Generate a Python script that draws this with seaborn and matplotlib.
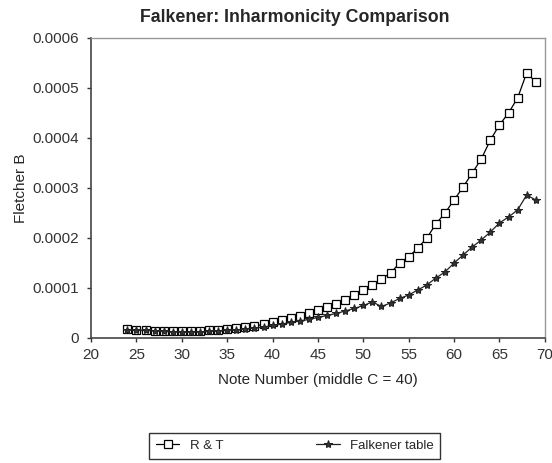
import numpy as np
import pandas as pd
import matplotlib.pyplot as plt
import seaborn as sns

notes = list(range(24, 70))

rt_b = [1.7e-5, 1.6e-5, 1.5e-5, 1.4e-5, 1.4e-5, 1.3e-5, 1.3e-5, 1.3e-5, 1.4e-5, 1.5e-5,
        1.6e-5, 1.7e-5, 1.9e-5, 2.1e-5, 2.4e-5, 2.7e-5, 3.1e-5, 3.5e-5, 3.9e-5, 4.4e-5,
        4.9e-5, 5.5e-5, 6.1e-5, 6.8e-5, 7.6e-5, 8.6e-5, 9.6e-5, 1.06e-4, 1.18e-4, 1.3e-4,
        1.5e-4, 1.62e-4, 1.8e-4, 2.0e-4, 2.28e-4, 2.5e-4, 2.76e-4, 3.02e-4, 3.3e-4, 3.58e-4,
        3.96e-4, 4.26e-4, 4.5e-4, 4.8e-4, 5.3e-4, 5.12e-4]

falkener_b = [1.6e-5, 1.5e-5, 1.5e-5, 1.4e-5, 1.3e-5, 1.2e-5, 1.2e-5, 1.2e-5, 1.2e-5, 1.3e-5,
              1.4e-5, 1.5e-5, 1.6e-5, 1.8e-5, 2.0e-5, 2.2e-5, 2.5e-5, 2.8e-5, 3.1e-5, 3.4e-5,
              3.7e-5, 4.1e-5, 4.5e-5, 4.9e-5, 5.4e-5, 5.9e-5, 6.5e-5, 7.2e-5, 6.3e-5, 7.0e-5,
              7.9e-5, 8.6e-5, 9.6e-5, 1.06e-4, 1.2e-4, 1.32e-4, 1.5e-4, 1.66e-4, 1.82e-4, 1.96e-4,
              2.12e-4, 2.3e-4, 2.42e-4, 2.56e-4, 2.86e-4, 2.76e-4]

x_ticks = [20, 25, 30, 35, 40, 45, 50, 55, 60, 65, 70]
y_ticks = [0, 0.0001, 0.0002, 0.0003, 0.0004, 0.0005, 0.0006]
y_labels = ['0', '0.0001', '0.0002', '0.0003', '0.0004', '0.0005', '0.0006']

df = pd.DataFrame({'note': notes, 'R & T': rt_b, 'Falkener table': falkener_b})

sns.set_style('white')
plt.rcParams['font.family'] = ['Liberation Sans', 'DejaVu Sans']

fig = plt.figure(figsize=(5.52, 4.63), dpi=100)
ax = fig.add_axes([0.165, 0.27, 0.822, 0.648])

sns.lineplot(data=df, x='note', y='R & T', ax=ax, color='black', linewidth=0.9,
             marker='s', markersize=6, markerfacecolor='white', markeredgecolor='black',
             markeredgewidth=0.9, label='R & T')
sns.lineplot(data=df, x='note', y='Falkener table', ax=ax, color='#222222', linewidth=0.9,
             marker='*', markersize=6, markerfacecolor='#333333', markeredgecolor='#222222',
             label='Falkener table')

ax.set_xlim(20, 70)
ax.set_ylim(0, 0.0006)
ax.set_xticks(x_ticks)
ax.set_yticks(y_ticks)
ax.set_yticklabels(y_labels)
ax.tick_params(axis='both', labelsize=11, direction='out', length=3, width=1,
               colors='#333333', labelcolor='#333333', left=True, bottom=True)
ax.tick_params(axis='y', pad=6)
ax.tick_params(axis='x', pad=4)

for side in ['left', 'bottom']:
    ax.spines[side].set_color('#444444')
    ax.spines[side].set_linewidth(1.2)
for side in ['top', 'right']:
    ax.spines[side].set_color('#999999')
    ax.spines[side].set_linewidth(1.0)

fig.text(0.534, 0.963, 'Falkener: Inharmonicity Comparison', fontsize=12.8,
         fontweight='bold', ha='center', va='center')
ax.set_xlabel('Note Number (middle C = 40)', fontsize=11, labelpad=8)
ax.set_ylabel('Fletcher B', fontsize=11, labelpad=3)

ax.get_legend().remove()
handles, labels = ax.get_legend_handles_labels()
leg = fig.legend(handles, labels, loc='center', bbox_to_anchor=(0.534, 0.037), ncol=2,
                 fontsize=9.5, frameon=True, fancybox=False, edgecolor='black',
                 handlelength=1.8, columnspacing=7, borderpad=0.5, shadow=False)
leg.get_frame().set_linewidth(1.0)

fig.savefig('out.png', dpi=100)
